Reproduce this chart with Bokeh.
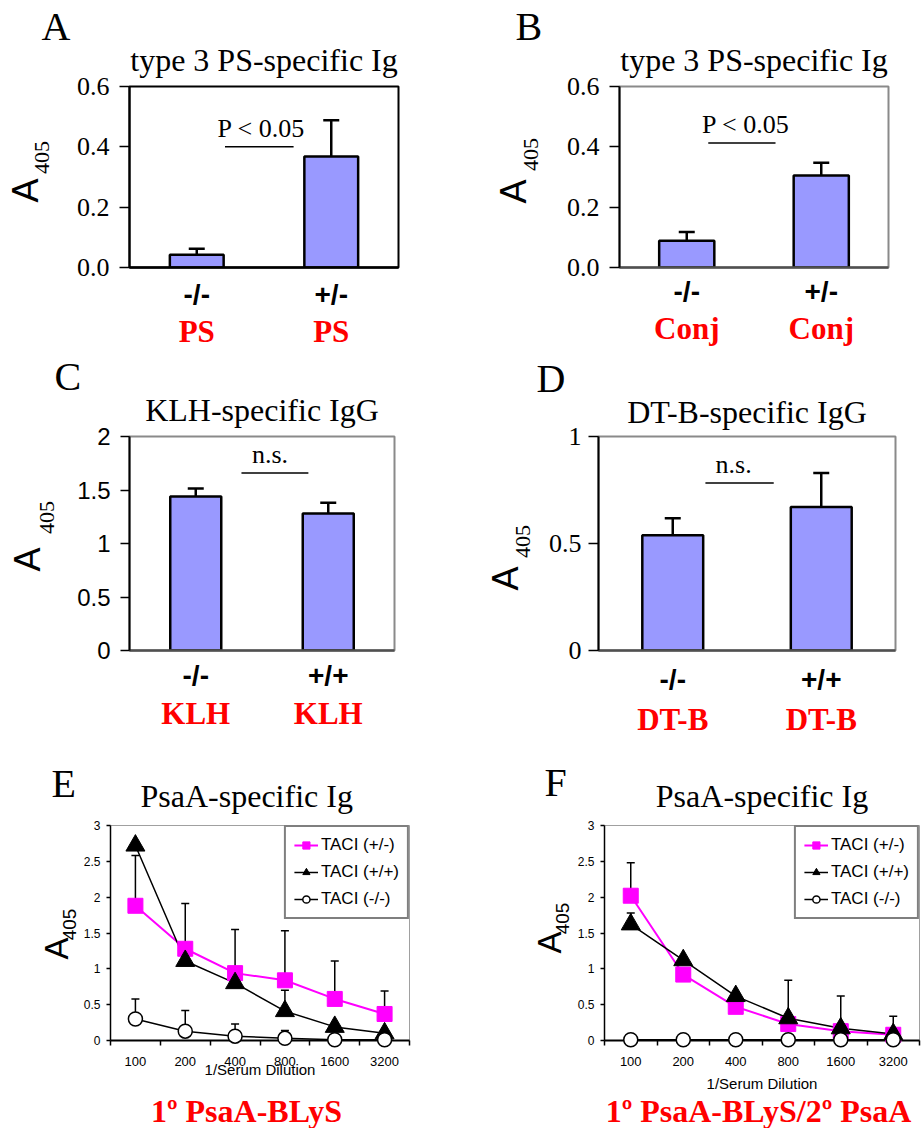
from bokeh.plotting import figure
from bokeh.models import (Range1d, LinearAxis, FixedTicker, Label, Whisker,
                          TeeHead, ColumnDataSource, Legend, LegendItem)
from bokeh.core.properties import value
from bokeh.layouts import column, row
from bokeh.embed import file_html
from bokeh.resources import INLINE
import math

SERIF = "Liberation Serif"
SANS = "Liberation Sans"

# ---------------- data ----------------
A_letter = "A"
A_title = "type 3 PS-specific Ig"
A_genotypes = ["-/-", "+/-"]
A_antigens = ["PS", "PS"]
A_mean = [0.042, 0.368]
A_err = [0.020, 0.120]
A_yticks = [0.0, 0.2, 0.4, 0.6]
A_ylabels = ["0.0", "0.2", "0.4", "0.6"]
A_sig_text = "P < 0.05"
A_sig_level = 0.40

B_letter = "B"
B_title = "type 3 PS-specific Ig"
B_genotypes = ["-/-", "+/-"]
B_antigens = ["Conj", "Conj"]
B_mean = [0.089, 0.305]
B_err = [0.029, 0.042]
B_yticks = [0.0, 0.2, 0.4, 0.6]
B_ylabels = ["0.0", "0.2", "0.4", "0.6"]
B_sig_text = "P < 0.05"
B_sig_level = 0.413

C_letter = "C"
C_title = "KLH-specific IgG"
C_genotypes = ["-/-", "+/+"]
C_antigens = ["KLH", "KLH"]
C_mean = [1.44, 1.28]
C_err = [0.074, 0.10]
C_yticks = [0.0, 0.5, 1.0, 1.5, 2.0]
C_ylabels = ["0", "0.5", "1", "1.5", "2"]
C_sig_text = "n.s."
C_sig_level = 1.66

D_letter = "D"
D_title = "DT-B-specific IgG"
D_genotypes = ["-/-", "+/+"]
D_antigens = ["DT-B", "DT-B"]
D_mean = [0.538, 0.670]
D_err = [0.080, 0.160]
D_yticks = [0.0, 0.5, 1.0]
D_ylabels = ["0", "0.5", "1"]
D_sig_text = "n.s."
D_sig_level = 0.783

dilutions = ["100", "200", "400", "800", "1600", "3200"]
series_names = ["TACI (+/-)", "TACI (+/+)", "TACI (-/-)"]
line_yticks = [0.0, 0.5, 1.0, 1.5, 2.0, 2.5, 3.0]
line_ylabels = ["0", "0.5", "1", "1.5", "2", "2.5", "3"]
x_title = "1/Serum Dilution"

E_letter = "E"
E_title = "PsaA-specific Ig"
E_caption = "1º PsaA-BLyS"
E_het = [1.88, 1.28, 0.94, 0.84, 0.58, 0.37]
E_het_err = [0.70, 0.63, 0.61, 0.69, 0.53, 0.32]
E_wt = [2.72, 1.11, 0.80, 0.41, 0.19, 0.10]
E_wt_err = [0.0, 0.0, 0.0, 0.29, 0.0, 0.0]
E_ko = [0.30, 0.13, 0.06, 0.03, 0.01, 0.01]
E_ko_err = [0.28, 0.29, 0.17, 0.11, 0.0, 0.0]

F_letter = "F"
F_title = "PsaA-specific Ig"
F_caption = "1º PsaA-BLyS/2º PsaA"
F_het = [2.02, 0.92, 0.47, 0.23, 0.13, 0.08]
F_het_err = [0.46, 0.0, 0.0, 0.0, 0.0, 0.0]
F_wt = [1.62, 1.12, 0.62, 0.31, 0.17, 0.09]
F_wt_err = [0.16, 0.0, 0.0, 0.53, 0.45, 0.25]
F_ko = [0.01, 0.01, 0.01, 0.01, 0.01, 0.01]
F_ko_err = [0.0, 0.0, 0.0, 0.0, 0.0, 0.0]

# ---------------- styles / layout ----------------
# (pixel offsets of outside texts are measured from the frame's bottom-left corner)
bar_styles = {
    "A": dict(w=470, h=351, ml=129, mr=72, mt=86, mb=81, bar_w=0.40, outline="black", xline="black",
              yfont=SERIF, ysize="26px", ytick=10, ystand=10, tstand=17, talign="center", toff=0,
              letter=(-88, 241), yA=(-104, 77), y405=(-88, 110),
              sig=(0.71, 1.22, 0.98), gstand=11, astand=1),
    "B": dict(w=452, h=351, ml=149, mr=34, mt=86, mb=81, bar_w=0.41, outline="#8a8a8a", xline="#505050",
              yfont=SERIF, ysize="26px", ytick=10, ystand=10, tstand=17, talign="center", toff=0,
              letter=(-104, 241), yA=(-106, 76), y405=(-89, 113),
              sig=(0.66, 1.16, 0.94), gstand=8, astand=1),
    "C": dict(w=470, h=397, ml=129, mr=76, mt=85, mb=98, bar_w=0.385, outline="#8a8a8a", xline="#505050",
              yfont=SANS, ysize="24px", ytick=9, ystand=10, tstand=18, talign="center", toff=0,
              letter=(-75, 274), yA=(-102, 91), y405=(-83, 133),
              sig=(0.845, 1.35, 1.06), gstand=9, astand=2),
    "D": dict(w=452, h=397, ml=128, mr=27, mt=85, mb=98, bar_w=0.41, outline="#8a8a8a", xline="#505050",
              yfont=SERIF, ysize="26px", ytick=10, ystand=7, tstand=13, talign="center", toff=0,
              letter=(-62, 272), yA=(-93, 72), y405=(-76, 109),
              sig=(0.72, 1.18, 0.91), gstand=13, astand=4),
}

line_styles = {
    "E": dict(w=470, h=380, ml=110, mr=61, mt=77, mb=88, tstand=23, talign="left", toff=30,
              letter=(-59, 257), yA=(-54, 92), y405=(-41, 116),
              cap=(136, -70), xlab_stand=-8),
    "F": dict(w=452, h=380, ml=134, mr=3, mt=77, mb=88, tstand=23, talign="center", toff=0,
              letter=(-60, 258), yA=(-55, 98), y405=(-42, 122),
              cap=(154, -70), xlab_stand=6),
}


def slot_positions(categories):
    # categorical slots on a numeric scale: category i occupies [i, i+1]
    return [i + 0.5 for i in range(len(categories))]


def base_fig(s, categories, yr):
    p = figure(width=s["w"], height=s["h"], x_range=Range1d(0, len(categories)), y_range=yr,
               x_axis_type=None, output_backend="svg", toolbar_location=None,
               min_border_left=s["ml"], min_border_right=s["mr"],
               min_border_top=s["mt"], min_border_bottom=s["mb"])
    p.grid.visible = False
    return p


def style_title(p, title, s):
    p.title.text = title
    p.title.align = s["talign"]
    p.title.offset = s["toff"]
    p.title.text_font = SERIF
    p.title.text_font_size = "32px"
    p.title.text_font_style = "normal"
    p.title.text_color = "black"
    p.title.standoff = s["tstand"]


def outside_text(p, d, text, font, size, angle=0.0, align="left", color="black", style="normal"):
    # text centred vertically at a pixel offset from the frame's bottom-left corner, unclipped
    p.text(x=[p.x_range.start], y=[p.y_range.start], text=[text], x_offset=d[0], y_offset=-d[1],
           angle=angle, text_font=value(font), text_font_size=value(size),
           text_font_style=style, text_align=align, text_baseline="middle",
           text_color=color, level="overlay")


def y_label(p, s, font405, sizeA, size405):
    outside_text(p, s["yA"], "A", SANS, sizeA, angle=math.pi / 2, align="center")
    outside_text(p, s["y405"], "405", font405, size405, angle=math.pi / 2, align="center")


def bar_panel(letter, title, genotypes, antigens, mean, err, yticks, ylabels, sig_text, sig_level, s):
    p = base_fig(s, genotypes, Range1d(yticks[0], yticks[-1]))
    p.outline_line_color = s["outline"]
    p.outline_line_width = 2
    style_title(p, title, s)

    ya = p.yaxis[0]
    ya.ticker = FixedTicker(ticks=yticks)
    ya.major_label_overrides = dict(zip(yticks, ylabels))
    ya.major_label_text_font = s["yfont"]
    ya.major_label_text_font_size = s["ysize"]
    ya.major_label_text_color = "black"
    ya.major_tick_out = s["ytick"]
    ya.major_tick_in = 0
    ya.major_tick_line_width = 1.5
    ya.minor_tick_line_color = None
    ya.axis_line_width = 2
    ya.major_label_standoff = s["ystand"]

    xs = slot_positions(genotypes)
    ax1 = LinearAxis(ticker=FixedTicker(ticks=xs),
                     major_label_overrides=dict(zip(xs, genotypes)),
                     major_tick_line_color=None, major_tick_out=0, major_tick_in=0,
                     minor_tick_line_color=None, axis_line_color=s["xline"], axis_line_width=2.5,
                     major_label_text_font=SANS, major_label_text_font_style="bold",
                     major_label_text_font_size="28px", major_label_text_color="black",
                     major_label_standoff=s["gstand"])
    p.add_layout(ax1, "below")
    ax2 = LinearAxis(ticker=FixedTicker(ticks=xs),
                     major_label_overrides=dict(zip(xs, antigens)),
                     major_tick_line_color=None, major_tick_out=0, major_tick_in=0,
                     minor_tick_line_color=None, axis_line_color=None,
                     major_label_text_font=SERIF, major_label_text_font_style="bold",
                     major_label_text_font_size="31px", major_label_text_color="#ff0000",
                     major_label_standoff=s["astand"])
    p.add_layout(ax2, "below")

    src = ColumnDataSource(dict(x=xs, top=mean, upper=[m + e for m, e in zip(mean, err)]))
    p.vbar(x="x", top="top", bottom=0, width=s["bar_w"], source=src,
           fill_color="#9999FF", line_color="black", line_width=2.5)
    p.add_layout(Whisker(base="x", lower="top", upper="upper", source=src, dimension="height",
                         line_color="black", line_width=2.5, lower_head=None,
                         upper_head=TeeHead(size=16, line_width=2.5, line_color="black")))

    x0, x1, tx = s["sig"]
    p.segment(x0=[x0], x1=[x1], y0=[sig_level], y1=[sig_level], line_color="black", line_width=1.5)
    p.add_layout(Label(x=tx, y=sig_level, text=sig_text, text_align="center",
                       text_baseline="middle", y_offset=18, text_font=SERIF,
                       text_font_size="26px", text_color="black"))

    outside_text(p, s["letter"], letter, SERIF, "40px")
    y_label(p, s, SERIF, "36px", "22px")
    return p


def line_panel(letter, title, caption, het, het_err, wt, wt_err, ko, ko_err, s):
    n = len(dilutions)
    p = base_fig(s, dilutions, Range1d(line_yticks[0], line_yticks[-1]))
    p.outline_line_color = "#a0a0a0"
    p.outline_line_width = 1
    style_title(p, title, s)

    ya = p.yaxis[0]
    ya.ticker = FixedTicker(ticks=line_yticks)
    ya.major_label_overrides = dict(zip(line_yticks, line_ylabels))
    ya.major_label_text_font = SANS
    ya.major_label_text_font_size = "12px"
    ya.major_label_text_color = "black"
    ya.major_tick_out = 4
    ya.major_tick_in = 0
    ya.major_tick_line_width = 1.5
    ya.minor_tick_line_color = None
    ya.axis_line_width = 1.5
    ya.major_label_standoff = 6

    xs = slot_positions(dilutions)
    bounds = list(range(n + 1))
    xa = LinearAxis(ticker=FixedTicker(ticks=xs, minor_ticks=bounds),
                    major_label_overrides=dict(zip(xs, dilutions)),
                    major_tick_line_color=None, major_tick_out=0, major_tick_in=0,
                    minor_tick_line_color="black", minor_tick_out=5, minor_tick_in=0,
                    minor_tick_line_width=1.5, axis_line_color="black", axis_line_width=2,
                    major_label_text_font=SANS, major_label_text_font_size="13px",
                    major_label_text_color="black", major_label_standoff=11,
                    axis_label=x_title, axis_label_text_font=SANS, axis_label_text_font_size="15px",
                    axis_label_text_font_style="normal", axis_label_text_color="black",
                    axis_label_standoff=s["xlab_stand"])
    p.add_layout(xa, "below")

    specs = [
        (series_names[0], het, het_err, dict(marker="square", size=15, fill_color="#ff00ff",
                                             line_color="#ff00ff"), "#ff00ff", 2),
        (series_names[1], wt, wt_err, dict(marker="triangle", size=19, fill_color="black",
                                           line_color="black"), "black", 1.5),
        (series_names[2], ko, ko_err, dict(marker="circle", size=14, fill_color="white",
                                           line_color="black", line_width=1.5), "black", 1.5),
    ]
    items = []
    for name, vals, errs, mk, lc, lw in specs:
        src = ColumnDataSource(dict(x=xs, y=vals))
        keep = [i for i, e in enumerate(errs) if e > 0]
        if keep:
            esrc = ColumnDataSource(dict(x=[xs[i] for i in keep],
                                         y=[vals[i] for i in keep],
                                         up=[vals[i] + errs[i] for i in keep]))
            p.add_layout(Whisker(base="x", lower="y", upper="up", source=esrc, dimension="height",
                                 line_color="black", line_width=1.5, lower_head=None,
                                 upper_head=TeeHead(size=8, line_width=1.5, line_color="black")))
        lr = p.line("x", "y", source=src, line_color=lc, line_width=lw)
        sr = p.scatter("x", "y", source=src, level="overlay", **mk)
        items.append(LegendItem(label=name, renderers=[lr, sr]))

    leg = Legend(items=items, location="top_right", border_line_color="black", border_line_width=2,
                 background_fill_color="white", background_fill_alpha=1.0,
                 label_text_font=SANS, label_text_font_size="17px", label_text_color="black",
                 glyph_width=24, glyph_height=18, label_height=18, label_standoff=3,
                 spacing=7, padding=8, margin=0)
    p.add_layout(leg)

    outside_text(p, s["letter"], letter, SERIF, "40px")
    y_label(p, s, SANS, "33px", "19px")
    outside_text(p, s["cap"], caption, SERIF, "32px", align="center", color="#ff0000", style="bold")
    return p


pA = bar_panel(A_letter, A_title, A_genotypes, A_antigens, A_mean, A_err, A_yticks, A_ylabels,
               A_sig_text, A_sig_level, bar_styles["A"])
pB = bar_panel(B_letter, B_title, B_genotypes, B_antigens, B_mean, B_err, B_yticks, B_ylabels,
               B_sig_text, B_sig_level, bar_styles["B"])
pC = bar_panel(C_letter, C_title, C_genotypes, C_antigens, C_mean, C_err, C_yticks, C_ylabels,
               C_sig_text, C_sig_level, bar_styles["C"])
pD = bar_panel(D_letter, D_title, D_genotypes, D_antigens, D_mean, D_err, D_yticks, D_ylabels,
               D_sig_text, D_sig_level, bar_styles["D"])
pE = line_panel(E_letter, E_title, E_caption, E_het, E_het_err, E_wt, E_wt_err, E_ko, E_ko_err,
                line_styles["E"])
pF = line_panel(F_letter, F_title, F_caption, F_het, F_het_err, F_wt, F_wt_err, F_ko, F_ko_err,
                line_styles["F"])

layout = column(row(pA, pB), row(pC, pD), row(pE, pF))
open("out.html", "w").write(file_html(layout, INLINE))
